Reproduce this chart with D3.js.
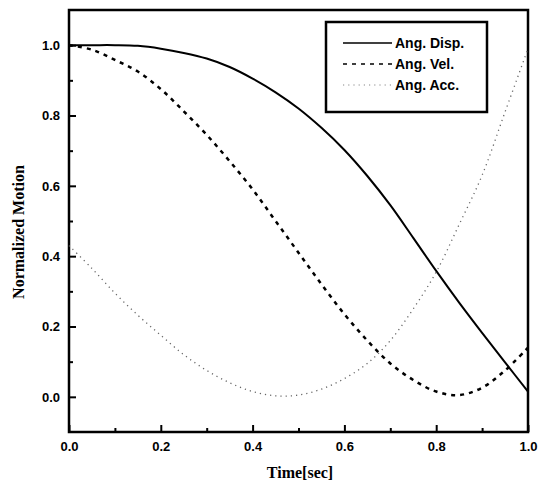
<!DOCTYPE html>
<html>
<head>
<meta charset="utf-8">
<script src="https://cdn.jsdelivr.net/npm/d3@7"></script>
<style>
  body { margin: 0; background: #fff; }
  #chart { width: 540px; height: 484px; }
</style>
</head>
<body>
<div id="chart"></div>
<script>
// normalized motion profiles
const time = [0, 0.05, 0.1, 0.15, 0.2, 0.25, 0.3, 0.35, 0.4, 0.45, 0.5,
  0.55, 0.6, 0.65, 0.7, 0.75, 0.8, 0.85, 0.9, 0.95, 1.0];
const angDisp = [1.0, 1.0, 1.0, 0.998, 0.99, 0.978, 0.962, 0.938, 0.905, 0.866, 0.82,
  0.765, 0.702, 0.628, 0.545, 0.452, 0.358, 0.268, 0.182, 0.098, 0.015];
const angVel = [1.0, 0.987, 0.958, 0.925, 0.875, 0.812, 0.745, 0.67, 0.59, 0.5, 0.41,
  0.32, 0.235, 0.16, 0.095, 0.048, 0.015, 0.005, 0.026, 0.075, 0.14];
const angAcc = [0.43, 0.365, 0.295, 0.232, 0.175, 0.12, 0.075, 0.04, 0.015, 0.003, 0.005,
  0.022, 0.052, 0.095, 0.16, 0.25, 0.355, 0.49, 0.63, 0.81, 0.99];

const seriesNames = ['Ang. Disp.', 'Ang. Vel.', 'Ang. Acc.'];
const xMajor = [0, 0.2, 0.4, 0.6, 0.8, 1.0];
const xMinor = [0.1, 0.3, 0.5, 0.7, 0.9];
const yMajor = [0, 0.2, 0.4, 0.6, 0.8, 1.0];
const yMinor = [0.1, 0.3, 0.5, 0.7, 0.9];

const container = d3.select('#chart');
const margin = { top: 10, right: 12, bottom: 52, left: 69 };
const width = 540 - margin.left - margin.right;
const height = 484 - margin.top - margin.bottom;

const svg = container
  .append('svg')
  .attr('width', 540)
  .attr('height', 484)
  .append('g')
  .attr('transform', 'translate(' + margin.left + ',' + margin.top + ')');

const x = d3.scaleLinear().domain([0, 1]).range([0, width]);
const y = d3.scaleLinear().domain([-0.1, 1.1]).range([height, 0]);

const tickFont = '"Liberation Sans", Arial, sans-serif';

// axes, ticks pointing inward
function styleAxis(g) {
  g.select('.domain').remove();
  g.selectAll('line').attr('stroke', '#000').attr('stroke-width', 2);
  g.selectAll('text')
    .attr('fill', '#000')
    .style('font-family', tickFont)
    .style('font-weight', 'bold')
    .style('font-size', '13px');
}

svg.append('g')
  .attr('transform', 'translate(0,' + height + ')')
  .call(d3.axisBottom(x).tickValues(xMajor).tickSize(-7).tickPadding(10).tickFormat(d3.format('.1f')))
  .call(styleAxis);

svg.append('g')
  .attr('transform', 'translate(0,' + height + ')')
  .call(d3.axisBottom(x).tickValues(xMinor).tickSize(-4).tickFormat(''))
  .call(styleAxis);

svg.append('g')
  .call(d3.axisLeft(y).tickValues(yMajor).tickSize(-7).tickPadding(9).tickFormat(d3.format('.1f')))
  .call(styleAxis);

svg.append('g')
  .call(d3.axisLeft(y).tickValues(yMinor).tickSize(-4).tickFormat(''))
  .call(styleAxis);

// frame
svg.append('rect')
  .attr('x', 0)
  .attr('y', 0)
  .attr('width', width)
  .attr('height', height)
  .attr('fill', 'none')
  .attr('stroke', '#000')
  .attr('stroke-width', 2.5);

// curves
const line = d3.line()
  .x((d) => x(d[0]))
  .y((d) => y(d[1]))
  .curve(d3.curveCatmullRom.alpha(0.5));

const styles = [
  { stroke: '#000', width: 2, dash: null },
  { stroke: '#000', width: 2.5, dash: '4,5' },
  { stroke: '#666', width: 1.3, dash: '1.2,4' }
];

[angDisp, angVel, angAcc].forEach((vals, i) => {
  svg.append('path')
    .datum(time.map((t, j) => [t, vals[j]]))
    .attr('d', line)
    .attr('fill', 'none')
    .attr('stroke', styles[i].stroke)
    .attr('stroke-width', styles[i].width)
    .attr('stroke-dasharray', styles[i].dash);
});

// legend
const legend = svg.append('g').attr('transform', 'translate(' + (326 - margin.left) + ',' + (22 - margin.top) + ')');

legend.append('rect')
  .attr('width', 161)
  .attr('height', 90)
  .attr('fill', '#fff')
  .attr('stroke', '#000')
  .attr('stroke-width', 2.5);

seriesNames.forEach((name, i) => {
  const ry = 21 + i * 21;
  legend.append('line')
    .attr('x1', 17)
    .attr('x2', 66)
    .attr('y1', ry)
    .attr('y2', ry)
    .attr('stroke', styles[i].stroke)
    .attr('stroke-width', i === 0 ? 1.5 : styles[i].width * 0.6)
    .attr('stroke-dasharray', styles[i].dash);
  legend.append('text')
    .text(name)
    .attr('x', 69)
    .attr('y', ry + 5)
    .style('font-family', tickFont)
    .style('font-weight', 'bold')
    .style('font-size', '14px');
});

// axis titles
svg.append('text')
  .text('Time[sec]')
  .attr('x', 300 - margin.left)
  .attr('y', 478 - margin.top)
  .attr('text-anchor', 'middle')
  .style('font-family', '"Liberation Serif", "Times New Roman", serif')
  .style('font-weight', 'bold')
  .style('font-size', '16px');

svg.append('text')
  .text('Normalized Motion')
  .attr('transform', 'translate(' + (24 - margin.left) + ',' + (232 - margin.top) + ') rotate(-90)')
  .attr('text-anchor', 'middle')
  .style('font-family', '"Liberation Serif", "Times New Roman", serif')
  .style('font-weight', 'bold')
  .style('font-size', '16px');
</script>
</body>
</html>
